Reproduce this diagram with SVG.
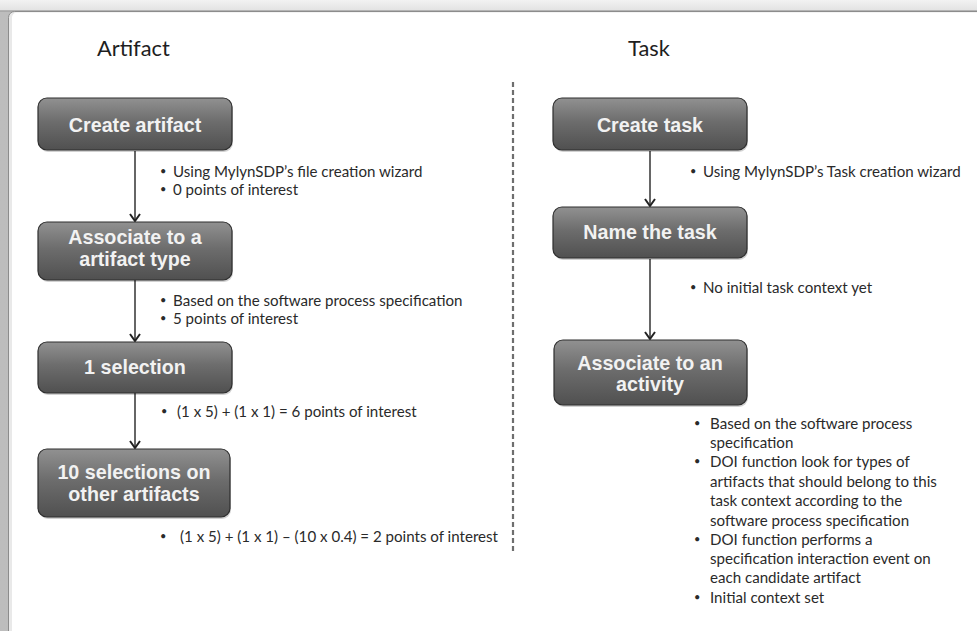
<svg xmlns="http://www.w3.org/2000/svg" width="977" height="631" viewBox="0 0 977 631">
  <defs>
    <linearGradient id="topbar" x1="0" y1="0" x2="0" y2="1">
      <stop offset="0" stop-color="#f2f2f2"/>
      <stop offset="1" stop-color="#e2e2e2"/>
    </linearGradient>
    <linearGradient id="leftbar" x1="0" y1="0" x2="1" y2="0">
      <stop offset="0" stop-color="#bdbdbd"/>
      <stop offset="1" stop-color="#a9a9a9"/>
    </linearGradient>
    <linearGradient id="boxfill" x1="0" y1="0" x2="0" y2="1">
      <stop offset="0" stop-color="#919191"/>
      <stop offset="0.45" stop-color="#6d6d6d"/>
      <stop offset="1" stop-color="#505050"/>
    </linearGradient>
    <marker id="chevd" viewBox="0 0 12 10" refX="6" refY="9" markerWidth="12" markerHeight="10" markerUnits="userSpaceOnUse" orient="0">
      <path d="M1,2 L6,9 L11,2" fill="none" stroke="#222" stroke-width="2"/>
    </marker>
  </defs>
  <style>
    .title { font-family: Lato, "Open Sans", sans-serif; font-size: 21.8px; fill: #1e1e1e; }
    .box rect.body { fill: url(#boxfill); stroke: #2e2e2e; stroke-width: 1.2; }
    .box rect.shadow { fill: #000; opacity: 0.18; }
    .box text { font-family: "Liberation Sans", Arial, sans-serif; font-weight: bold; font-size: 19.7px; fill: #f2f2f2; text-anchor: middle; }
    .note { font-family: Lato, "Open Sans", sans-serif; font-size: 15.1px; fill: #2a2a2a; }
    .note .b { font-size: 11px; }
    .conn line { stroke: #333; stroke-width: 1.5; }
    .sep { stroke: #6e6e6e; stroke-width: 2.2; stroke-dasharray: 5 3; }
  </style>

  <!-- window chrome -->
  <rect x="0" y="0" width="977" height="631" fill="url(#leftbar)"/>
  <rect x="0" y="0" width="977" height="11" fill="url(#topbar)"/>
  <line x1="0" y1="11" x2="977" y2="11" stroke="#a4a4a4" stroke-width="1.5"/>
  <rect x="8.5" y="11.5" width="975" height="630" rx="6" fill="#e9e9e9" stroke="#8c8c8c" stroke-width="1"/>
  <rect x="12" y="12.5" width="970" height="625" rx="5" fill="#ffffff"/>

  <!-- column headings -->
  <text class="title" x="97" y="56">Artifact</text>
  <text class="title" x="628" y="56">Task</text>

  <!-- column divider -->
  <line class="sep" x1="513" y1="82" x2="513" y2="552"/>

  <!-- connectors -->
  <g id="connectors" class="conn">
    <line x1="135" y1="151" x2="135" y2="221" marker-end="url(#chevd)"/>
    <line x1="135" y1="280" x2="135" y2="341" marker-end="url(#chevd)"/>
    <line x1="135" y1="393" x2="135" y2="448" marker-end="url(#chevd)"/>
    <line x1="650" y1="151" x2="650" y2="206" marker-end="url(#chevd)"/>
    <line x1="650" y1="259" x2="650" y2="339" marker-end="url(#chevd)"/>
  </g>

  <!-- artifact column -->
  <g id="create-artifact" class="box">
    <rect class="shadow" x="39" y="100" width="194" height="52" rx="9"/>
    <rect class="body" x="38" y="98" width="194" height="52" rx="9"/>
    <text x="135" y="132">Create artifact</text>
  </g>
  <g id="associate-artifact-type" class="box">
    <rect class="shadow" x="39" y="224" width="194" height="58" rx="9"/>
    <rect class="body" x="38" y="222" width="194" height="58" rx="9"/>
    <text x="135" y="244">Associate to a</text>
    <text x="135" y="266">artifact type</text>
  </g>
  <g id="one-selection" class="box">
    <rect class="shadow" x="39" y="344" width="194" height="51" rx="9"/>
    <rect class="body" x="38" y="342" width="194" height="51" rx="9"/>
    <text x="135" y="374">1 selection</text>
  </g>
  <g id="ten-selections" class="box">
    <rect class="shadow" x="39" y="451" width="192" height="68" rx="9"/>
    <rect class="body" x="38" y="449" width="192" height="68" rx="9"/>
    <text x="134" y="479">10 selections on</text>
    <text x="134" y="501">other artifacts</text>
  </g>

  <g id="artifact-notes" class="note">
    <text class="b" x="160" y="175">•</text><text x="173" y="177">Using MylynSDP’s file creation wizard</text>
    <text class="b" x="160" y="193">•</text><text x="173" y="195">0 points of interest</text>
    <text class="b" x="160" y="304">•</text><text x="173" y="306">Based on the software process specification</text>
    <text class="b" x="160" y="322">•</text><text x="173" y="324">5 points of interest</text>
    <text class="b" x="161" y="415">•</text><text x="177" y="417">(1 x 5) + (1 x 1) = 6 points of interest</text>
    <text class="b" x="160" y="540">•</text><text x="180" y="542">(1 x 5) + (1 x 1) – (10 x 0.4) = 2 points of interest</text>
  </g>

  <!-- task column -->
  <g id="create-task" class="box">
    <rect class="shadow" x="554" y="100" width="194" height="52" rx="9"/>
    <rect class="body" x="553" y="98" width="194" height="52" rx="9"/>
    <text x="650" y="132">Create task</text>
  </g>
  <g id="name-task" class="box">
    <rect class="shadow" x="554" y="209" width="194" height="51" rx="9"/>
    <rect class="body" x="553" y="207" width="194" height="51" rx="9"/>
    <text x="650" y="239">Name the task</text>
  </g>
  <g id="associate-activity" class="box">
    <rect class="shadow" x="555" y="342" width="193" height="65" rx="9"/>
    <rect class="body" x="554" y="340" width="193" height="65" rx="9"/>
    <text x="650" y="370">Associate to an</text>
    <text x="650" y="391">activity</text>
  </g>

  <g id="task-notes" class="note">
    <text class="b" x="690" y="175">•</text><text x="703" y="177">Using MylynSDP’s Task creation wizard</text>
    <text class="b" x="690" y="291">•</text><text x="703" y="293">No initial task context yet</text>
    <text class="b" x="694" y="427">•</text><text x="710" y="429">Based on the software process</text>
    <text x="710" y="448">specification</text>
    <text class="b" x="694" y="465">•</text><text x="710" y="467">DOI function look for types of</text>
    <text x="710" y="487">artifacts that should belong to this</text>
    <text x="710" y="506">task context according to the</text>
    <text x="710" y="526">software process specification</text>
    <text class="b" x="694" y="543">•</text><text x="710" y="545">DOI function performs a</text>
    <text x="710" y="564">specification interaction event on</text>
    <text x="710" y="583">each candidate artifact</text>
    <text class="b" x="694" y="601">•</text><text x="710" y="603">Initial context set</text>
  </g>
</svg>
